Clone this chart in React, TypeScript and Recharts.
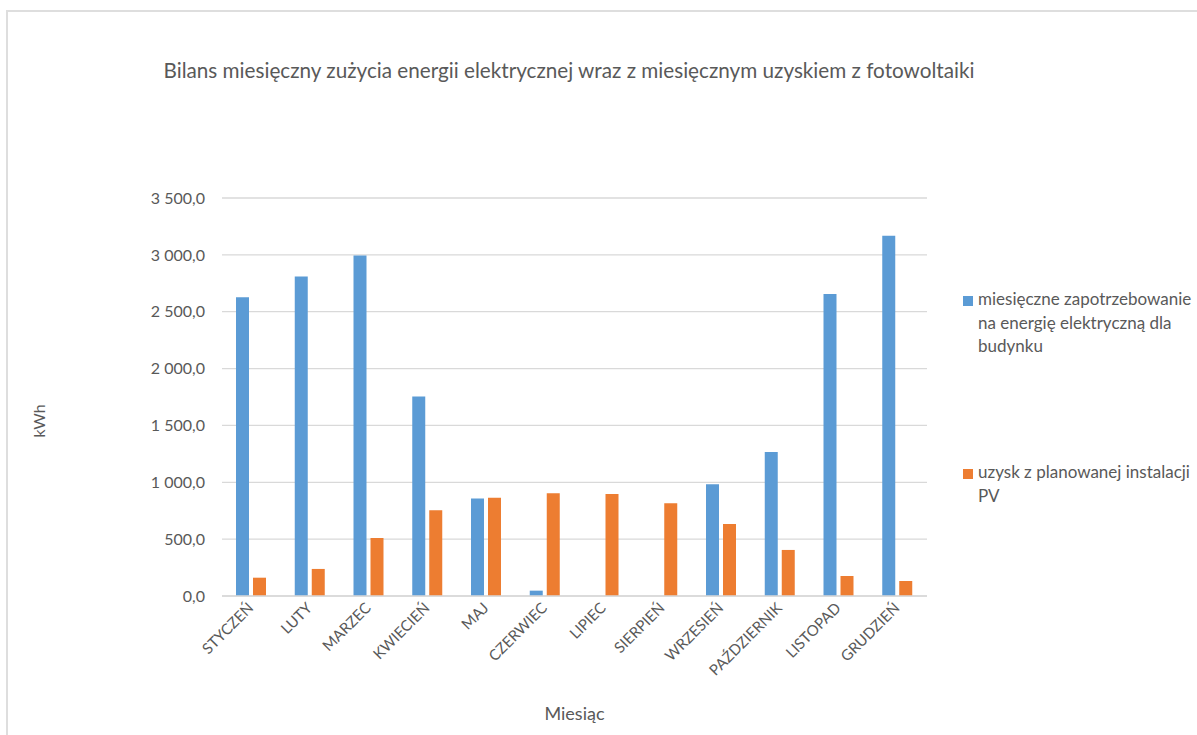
import React from 'react';
import { BarChart, Bar, XAxis, YAxis, CartesianGrid, Legend } from 'recharts';

const months = ['STYCZEŃ', 'LUTY', 'MARZEC', 'KWIECIEŃ', 'MAJ', 'CZERWIEC', 'LIPIEC', 'SIERPIEŃ', 'WRZESIEŃ', 'PAŹDZIERNIK', 'LISTOPAD', 'GRUDZIEŃ'];
const demand = [2628, 2810, 2995, 1754, 857, 47, null, null, 983, 1267, 2655, 3168];
const pvYield = [161, 238, 510, 754, 865, 903, 898, 815, 634, 405, 176, 132];
const yTicks = [0, 500, 1000, 1500, 2000, 2500, 3000, 3500];

const seriesNames = [
  'miesięczne zapotrzebowanie na energię elektryczną dla budynku',
  'uzysk z planowanej instalacji PV',
];
const legendLines = [
  ['miesięczne zapotrzebowanie', 'na energię elektryczną dla', 'budynku'],
  ['uzysk z planowanej instalacji', 'PV'],
];
const title = 'Bilans miesięczny zużycia energii elektrycznej wraz z miesięcznym uzyskiem z fotowoltaiki';
const yLabel = 'kWh';
const xLabel = 'Miesiąc';

const data = months.map((m, i) => ({ month: m, demand: demand[i], pv: pvYield[i] }));

const FONT = 'Lato, "Open Sans", sans-serif';
const TEXT = '#595959';

const fmt = (v: number) => {
  const [i, d] = v.toFixed(1).split('.');
  return i.replace(/\B(?=(\d{3})+(?!\d))/g, ' ') + ',' + d;
};

const XTick = (props: any) => {
  const { x, y, payload } = props;
  return (
    <g transform={`translate(${x + 3},${y + 5})`}>
      <text x={0} y={0} textAnchor="end" transform="rotate(-45)" fill={TEXT} fontSize={15} fontFamily={FONT}>
        {payload.value}
      </text>
    </g>
  );
};

const LegendContent = (props: any) => {
  const items = props.payload || [];
  const tops = [287, 460];
  return (
    <div style={{ position: 'absolute', left: 0, top: 0, width: 0, height: 0 }}>
      {items.map((it: any, idx: number) => (
        <div key={idx} style={{ position: 'absolute', left: 963, top: tops[idx], width: 240, fontFamily: FONT, fontSize: 17, color: TEXT, lineHeight: '23.5px', whiteSpace: 'nowrap' }}>
          <span style={{ position: 'absolute', left: 0, top: 9, width: 10, height: 10, background: it.color }} />
          {(legendLines[idx] || [it.value]).map((l, k) => (
            <div key={k} style={{ marginLeft: 15 }}>{l}</div>
          ))}
        </div>
      ))}
    </div>
  );
};

export default function App() {
  return (
    <div style={{ position: 'fixed', left: 0, top: 0, width: 1197, height: 735, overflow: 'hidden', background: '#fff' }}>
      <div style={{ position: 'absolute', left: 6, top: 10, width: 1400, height: 900, borderLeft: '2px solid #dedede', borderTop: '2px solid #dedede' }} />
      <div style={{ position: 'absolute', left: 0, width: 1138, top: 58, textAlign: 'center', fontFamily: FONT, fontSize: 20.7, color: TEXT, whiteSpace: 'nowrap' }}>
        {title}
      </div>
      <div style={{ position: 'absolute', left: 0, top: 0 }}>
        <BarChart width={1197} height={735} data={data} margin={{ top: 198, right: 270, bottom: 0, left: 0 }} barGap={4} barSize={13}>
          <CartesianGrid vertical={false} stroke="#d9d9d9" strokeWidth={1.3} />
          <XAxis
            dataKey="month"
            height={139}
            tick={<XTick />}
            tickLine={false}
            axisLine={{ stroke: '#d9d9d9', strokeWidth: 1.3 }}
            interval={0}
            label={{ value: xLabel, position: 'insideBottom', offset: 15, fill: TEXT, fontSize: 18, fontFamily: FONT }}
          />
          <YAxis
            width={222}
            domain={[0, 3500]}
            ticks={yTicks}
            tickFormatter={fmt}
            tickLine={false}
            axisLine={false}
            tickSize={0}
            tickMargin={17}
            tick={{ fill: TEXT, fontSize: 16, fontFamily: FONT }}
            label={(p: any) => (
              <text x={45} y={421} transform="rotate(-90, 45, 421)" textAnchor="middle" fill={TEXT} fontSize={16} fontFamily={FONT}>
                {yLabel}
              </text>
            )}
          />
          <Legend content={<LegendContent />} wrapperStyle={{ position: 'absolute', left: 0, top: 0, width: 0, height: 0 }} />
          <Bar dataKey="demand" name={seriesNames[0]} fill="#5B9BD5" isAnimationActive={false} />
          <Bar dataKey="pv" name={seriesNames[1]} fill="#ED7D31" isAnimationActive={false} />
        </BarChart>
      </div>
    </div>
  );
}
